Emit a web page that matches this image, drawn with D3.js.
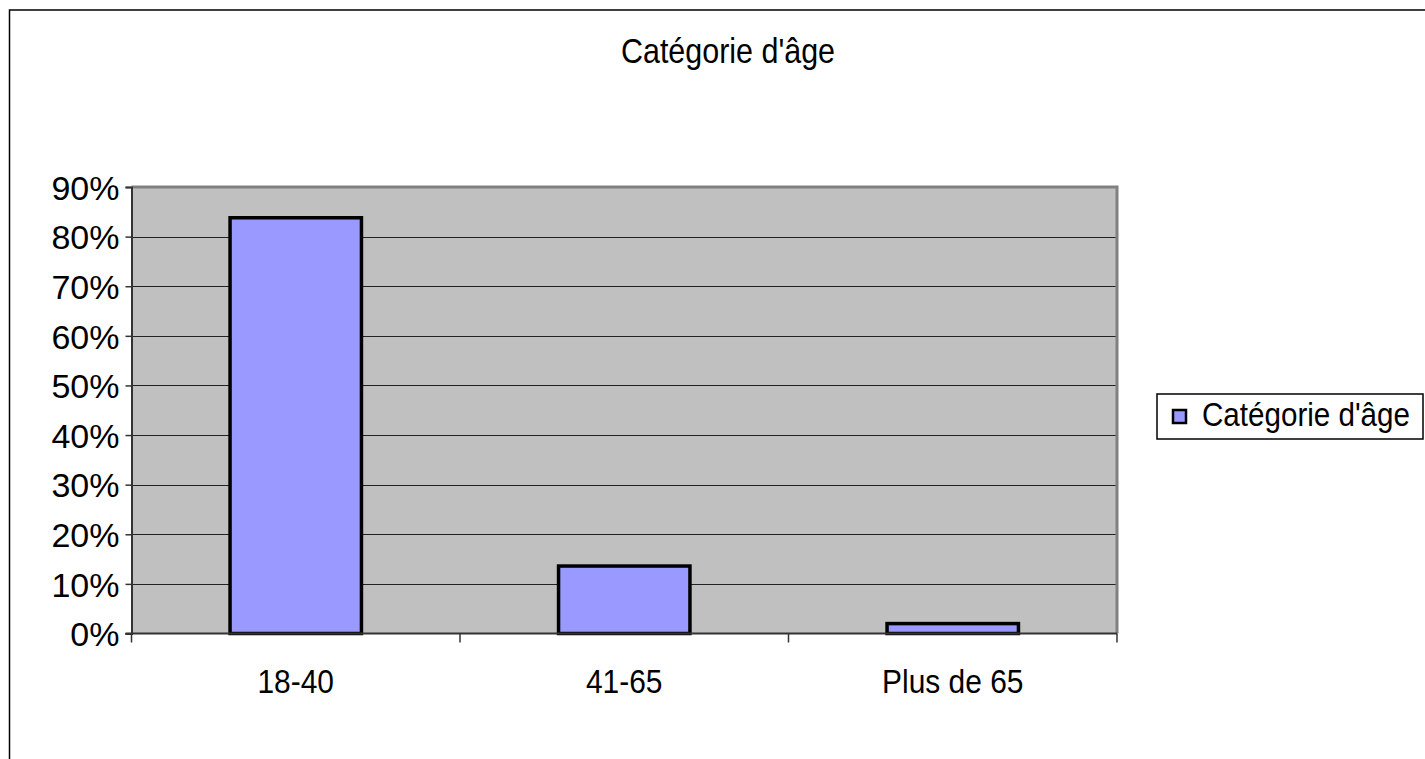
<!DOCTYPE html>
<html>
<head>
<meta charset="utf-8">
<script src="https://cdn.jsdelivr.net/npm/d3@7"></script>
<style>
  body { margin: 0; background: #fff; }
  text { font-family: "Liberation Sans Narrow", "Arial Narrow", "Liberation Sans", sans-serif; fill: #000; }
</style>
</head>
<body>
<script>
var width = 1425;
var height = 759;

// data
var categories = ["18-40", "41-65", "Plus de 65"];
var values = [83.8, 13.6, 2.0];
var yTicks = [0, 10, 20, 30, 40, 50, 60, 70, 80, 90];
var title = "Catégorie d'âge";
var seriesName = "Catégorie d'âge";

var svg = d3.select("body")
    .append("svg")
    .attr("width", width)
    .attr("height", height);

// no narrow font installed, so squeeze the text horizontally
function squeeze(sel, k) {
    sel.each(function() {
        var w = this.getComputedTextLength();
        d3.select(this)
            .attr("textLength", w * k)
            .attr("lengthAdjust", "spacingAndGlyphs");
    });
}

// outer chart border (runs off the right and bottom of the window)
svg.append("rect")
    .attr("x", 9.5)
    .attr("y", 10)
    .attr("width", 1500)
    .attr("height", 800)
    .attr("fill", "#fff")
    .attr("stroke", "#000")
    .attr("stroke-width", 1.5);

var plot = { left: 131.5, top: 187, right: 1117, bottom: 633.5 };

var x = d3.scaleBand()
    .domain(categories)
    .range([plot.left, plot.right])
    .paddingInner(0.6)
    .paddingOuter(0.3);

var xEdge = d3.scaleBand()
    .domain(categories)
    .range([plot.left, plot.right]);

var y = d3.scaleLinear()
    .domain([0, 90])
    .range([plot.bottom, plot.top]);

// plot background
svg.append("rect")
    .attr("x", plot.left)
    .attr("y", plot.top)
    .attr("width", plot.right - plot.left)
    .attr("height", plot.bottom - plot.top)
    .attr("fill", "#c0c0c0");

// gridlines
svg.append("g")
    .selectAll("line")
    .data(yTicks.filter(function(d) { return d > 0 && d < 90; }))
    .enter()
    .append("line")
    .attr("x1", plot.left)
    .attr("x2", plot.right)
    .attr("y1", function(d) { return Math.round(y(d)) + 0.5; })
    .attr("y2", function(d) { return Math.round(y(d)) + 0.5; })
    .attr("stroke", "#222")
    .attr("stroke-width", 1);

// top and right gray frame
svg.append("path")
    .attr("d", "M" + plot.left + "," + plot.top + "H" + plot.right + "V" + plot.bottom)
    .attr("fill", "none")
    .attr("stroke", "#808080")
    .attr("stroke-width", 3);

// bars
svg.append("g")
    .selectAll("rect")
    .data(values)
    .enter()
    .append("rect")
    .attr("x", function(d, i) { return x(categories[i]); })
    .attr("y", function(d) { return y(d); })
    .attr("width", x.bandwidth())
    .attr("height", function(d) { return y(0) - y(d); })
    .attr("fill", "#9999ff")
    .attr("stroke", "#000")
    .attr("stroke-width", 3.5);

// y axis
var yAxis = svg.append("g")
    .attr("transform", "translate(" + plot.left + ",0)")
    .call(d3.axisLeft(y)
        .tickValues(yTicks)
        .tickSize(6)
        .tickPadding(6)
        .tickFormat(function(d) { return d + "%"; }));
yAxis.select(".domain").attr("stroke", "#333").attr("stroke-width", 2);
yAxis.selectAll(".tick line").attr("stroke", "#333").attr("stroke-width", 1.5);
yAxis.selectAll("text")
    .attr("font-size", 34)
    .attr("dy", "0.36em")
    .attr("fill", "#000");

// x axis
var xAxis = svg.append("g")
    .attr("transform", "translate(0," + plot.bottom + ")");
xAxis.append("line")
    .attr("x1", plot.left - 6)
    .attr("x2", plot.right)
    .attr("stroke", "#333")
    .attr("stroke-width", 2);
xAxis.selectAll(".xtick")
    .data(categories.concat(["end"]))
    .enter()
    .append("line")
    .attr("class", "xtick")
    .attr("x1", function(d, i) { return i < categories.length ? xEdge(d) : plot.right; })
    .attr("x2", function(d, i) { return i < categories.length ? xEdge(d) : plot.right; })
    .attr("y1", 0)
    .attr("y2", 9)
    .attr("stroke", "#333")
    .attr("stroke-width", 1.5);
var xLabels = xAxis.selectAll(".xlabel")
    .data(categories)
    .enter()
    .append("text")
    .attr("class", "xlabel")
    .attr("x", function(d) { return x(d) + x.bandwidth() / 2; })
    .attr("y", 59)
    .attr("text-anchor", "middle")
    .attr("font-size", 34)
    .text(function(d) { return d; });
squeeze(xLabels, 0.88);

// title
var titleText = svg.append("text")
    .attr("x", 728)
    .attr("y", 63)
    .attr("text-anchor", "middle")
    .attr("font-size", 35)
    .text(title);
squeeze(titleText, 0.87);

// legend
var legend = svg.append("g")
    .attr("transform", "translate(1157,394)");
legend.append("rect")
    .attr("x", 0)
    .attr("y", 0)
    .attr("width", 266)
    .attr("height", 45)
    .attr("fill", "#fff")
    .attr("stroke", "#000")
    .attr("stroke-width", 1.5);
legend.append("rect")
    .attr("x", 16)
    .attr("y", 16)
    .attr("width", 13)
    .attr("height", 13)
    .attr("fill", "#9999ff")
    .attr("stroke", "#000")
    .attr("stroke-width", 2.5);
var legendText = legend.append("text")
    .attr("x", 45)
    .attr("y", 32)
    .attr("font-size", 34)
    .text(seriesName);
squeeze(legendText, 0.87);
</script>
</body>
</html>
